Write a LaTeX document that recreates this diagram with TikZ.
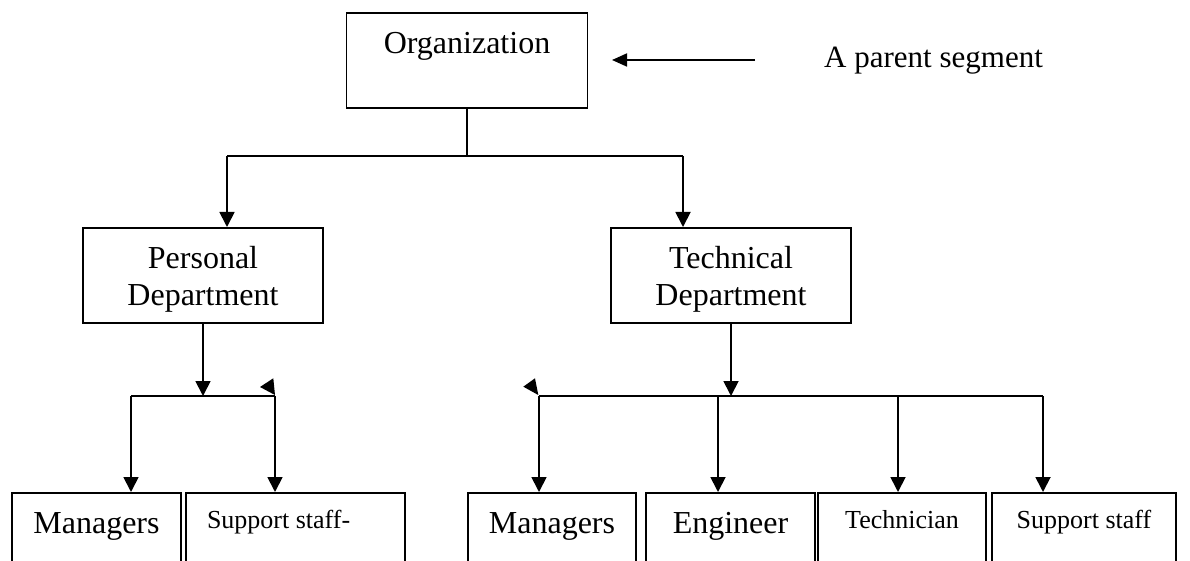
\documentclass[tikz,border=0pt]{standalone}
\usepackage{fontspec}
\setmainfont{Liberation Serif}
\usetikzlibrary{arrows.meta,calc}
\begin{document}
\begin{tikzpicture}[x=1pt,y=-1pt,
  big/.style={font=\fontsize{32}{37}\selectfont},
  small/.style={font=\fontsize{26}{30}\selectfont},
  box/.style={draw,line width=1.8pt,inner xsep=0pt,inner ysep=0pt,anchor=north,align=center},
  topbox/.style={box,minimum width=#1,text height=41pt,text depth=54pt},
  twobox/.style={box,minimum width=#1,text height=78pt,text depth=17pt},
  leafbox/.style={box,minimum width=#1,text height=41pt,text depth=59pt},
  leafsmall/.style={box,minimum width=#1,text height=36pt,text depth=64pt},
  link/.style={line width=1.8pt},
  arr/.style={link,-{Triangle[length=15pt,width=15pt]}},
  side/.style={link,-{Triangle[length=15pt,width=13pt]}}]
\useasboundingbox (0,0) rectangle (1190,561);
\clip (0,0) rectangle (1190,561);

% root segment and its caption
\node[topbox=241pt,big] (org) at (467,12) {Organization};
\node[font=\fontsize{31}{36}\selectfont,anchor=base west,inner sep=0pt] (cap) at (824,68) {A parent segment};
\coordinate (capstart) at (755,60);
\coordinate (captip) at (612,60);
\draw[side] (capstart) -- (captip);

% departments
\node[twobox=240pt,big] (pers) at (203,227) {Personal\\Department};
\node[twobox=240pt,big] (tech) at (731,227) {Technical\\Department};

% leaf segments (open at the lower edge)
\node[leafbox=169pt,big] (man1) at (96.5,492) {Managers};
\node[leafsmall=219pt,small,text width=177pt,align=flush left,inner xsep=21pt] (sup1) at (295.5,492) {Support staff-};
\node[leafbox=168pt,big] (man2) at (552,492) {Managers};
\node[leafbox=169pt,big] (eng) at (730.5,492) {Engineer};
\node[leafsmall=168pt,small] (tecn) at (902,492) {Technician};
\node[leafsmall=184pt,small] (sup2) at (1084,492) {Support staff};

% first level branching
\coordinate (jo) at (467,156);
\coordinate (bp) at (227,156);
\coordinate (bt) at (683,156);
\draw[link] (org.south) -- (jo);
\draw[link] (bp) -- (bt);
\draw[arr] (bp) -- (bp |- pers.north);
\draw[arr] (bt) -- (bt |- tech.north);

% personal department branching
\coordinate (pj) at (203,396);
\coordinate (pl) at (131,396);
\coordinate (pr) at (275,396);
\draw[arr] (pers.south -| pj) -- (pj);
\draw[link] (pl) -- (pr);
\draw[arr] (pl) -- (pl |- man1.north);
\draw[arr] (pr) -- (pr |- sup1.north);
\fill ($(pr)+(-15,-9)$) -- ($(pr)+(-1.7,-17.7)$) -- ($(pr)+(0,-1)$) -- cycle;

% technical department branching
\coordinate (tj) at (731,396);
\coordinate (t1) at (539,396);
\coordinate (t2) at (718,396);
\coordinate (t3) at (898,396);
\coordinate (t4) at (1043,396);
\draw[arr] (tech.south -| tj) -- (tj);
\draw[link] (t1) -- (t4);
\draw[arr] (t1) -- (t1 |- man2.north);
\draw[arr] (t2) -- (t2 |- eng.north);
\draw[arr] (t3) -- (t3 |- tecn.north);
\draw[arr] (t4) -- (t4 |- sup2.north);
\fill ($(t1)+(-15.7,-9.3)$) -- ($(t1)+(-4,-17.7)$) -- ($(t1)+(-0.7,-1)$) -- cycle;
\end{tikzpicture}
\end{document}
